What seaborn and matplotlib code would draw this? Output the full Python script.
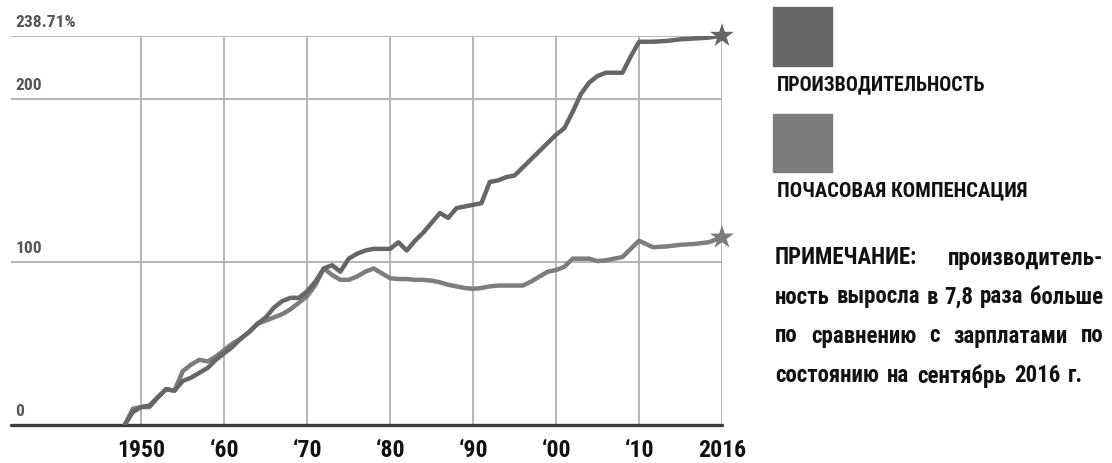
import numpy as np
import pandas as pd
import matplotlib
matplotlib.use("Agg")
import matplotlib.pyplot as plt
from matplotlib import font_manager
from matplotlib.patches import Rectangle
import seaborn as sns

# ---- data -------------------------------------------------------------
years = list(range(1948, 2017))

productivity = [
    0, 8, 11, 12, 17, 22, 21, 27, 29, 32, 35, 40,          # 1948-1959
    44, 48, 53, 57, 62, 66, 72, 76, 78, 78,                # 1960-1969
    82, 88, 96, 98, 94, 102, 105, 107, 108, 108,           # 1970-1979
    108, 112, 107, 113, 118, 124, 130, 127, 133, 134,      # 1980-1989
    135, 136, 149, 150, 152, 153, 158, 163, 168, 173,      # 1990-1999
    178, 182, 192, 203, 210, 214, 216, 216, 216, 226,      # 2000-2009
    235, 235, 235.5, 236.5, 237, 237.5, 238.71,            # 2010-2016
]

compensation = [
    0, 10, 11, 11, 17, 22, 21, 33, 37, 40, 39, 42,         # 1948-1959
    46, 50, 53, 57, 62, 64, 66, 68, 71, 75,                # 1960-1969
    79, 86, 96, 92, 89, 89, 91, 94, 96, 93,                # 1970-1979
    90, 89.5, 89.5, 89, 89, 88.5, 87.5, 86, 85, 84,        # 1980-1989
    83.5, 84, 85, 85.5, 85.5, 85.5, 85.5, 88, 91, 94,      # 1990-1999
    95, 97, 102, 102, 102, 100.5, 101, 102, 103, 108,      # 2000-2009
    113, 109, 109.5, 110.5, 111, 112, 115,                 # 2010-2016
]

series_names = ["ПРОИЗВОДИТЕЛЬНОСТЬ", "ПОЧАСОВАЯ КОМПЕНСАЦИЯ"]
series_colors = ["#666666", "#7d7d7d"]

x_ticks = [1950, 1960, 1970, 1980, 1990, 2000, 2010, 2016]
x_tick_labels = ["1950", "‘60", "‘70", "‘80", "‘90", "‘00", "‘10", "2016"]
y_ticks = [0, 100, 200, 238.71]
y_tick_labels = ["0", "100", "200", "238.71%"]

note_lines = [
    ["ПРИМЕЧАНИЕ:", "производитель-"],
    ["ность", "выросла", "в", "7,8", "раза", "больше"],
    ["по", "сравнению", "с", "зарплатами", "по"],
    ["состоянию", "на", "сентябрь", "2016", "г."],
]

# ---- styling ----------------------------------------------------------
sns.set_theme(style="white")


def pick_family(candidates):
    for fam in candidates:
        try:
            font_manager.findfont(font_manager.FontProperties(family=fam),
                                  fallback_to_default=False)
            return fam
        except Exception:
            continue
    return "DejaVu Sans"


main_family = pick_family(["Liberation Sans Narrow", "DejaVu Sans Condensed",
                           "Roboto Condensed", "Open Sans Condensed",
                           "DejaVu Sans"])
FONT = [main_family, "DejaVu Sans"]
plt.rcParams["font.family"] = FONT

W, H = 1112, 463
fig = plt.figure(figsize=(W / 100, H / 100), dpi=100)
ax = fig.add_axes([11 / W, 1 - 425 / H, (722 - 11) / W, (425 - 35.7) / H])
renderer = fig.canvas.get_renderer()


def text_width(s, size):
    t = fig.text(0, 0, s, fontsize=size, fontweight="bold", family=FONT)
    w = t.get_window_extent(renderer).width
    t.remove()
    return w


def fit_size(s, target_px, max_size):
    w = text_width(s, 20)
    return min(max_size, 20 * target_px / w)


# the last stretch (2010-2016) is drawn as wide as a full decade
def fwd(x):
    x = np.asarray(x, dtype=float)
    return np.where(x <= 2010, x, 2010 + (x - 2010) * 10 / 6)


def inv(x):
    x = np.asarray(x, dtype=float)
    return np.where(x <= 2010, x, 2010 + (x - 2010) * 0.6)


ax.set_xscale("function", functions=(fwd, inv))

df = pd.DataFrame({
    "year": years * 2,
    "value": productivity + compensation,
    "series": [series_names[0]] * len(years) + [series_names[1]] * len(years),
})
palette = dict(zip(series_names, series_colors))

sns.lineplot(data=df, x="year", y="value", hue="series", palette=palette,
             hue_order=series_names[::-1], linewidth=3.2, legend=False,
             ax=ax, zorder=4)

last = df[df["year"] == years[-1]]
sns.scatterplot(data=last, x="year", y="value", hue="series", palette=palette,
                marker="*", s=330, linewidth=0, legend=False, ax=ax,
                zorder=5, clip_on=False)

ax.set_xlim(1934.3, 2016)
ax.set_ylim(0, 238.71)

# grid
for xv in x_ticks:
    ax.axvline(xv, color="#b5b5b5", lw=1.4, zorder=1)
for yv in y_ticks[1:]:
    ax.axhline(yv, color="#b5b5b5", lw=1.4, zorder=1)
ax.axhline(0, color="#3c3c3c", lw=2.4, zorder=3, clip_on=False)

for s in ax.spines.values():
    s.set_visible(False)

xsize = fit_size("1950", 48, 18)
ax.set_xticks(x_ticks)
ax.set_xticklabels(x_tick_labels, fontsize=xsize, fontweight="bold",
                   color="#111111", family=FONT)
ax.tick_params(axis="x", length=0, pad=10)
ax.set_yticks([])
ax.set_xlabel("")
ax.set_ylabel("")

# y labels sitting just above their grid lines
ysize = fit_size("238.71%", 60, 13)
for yv, lab in zip(y_ticks, y_tick_labels):
    ax.text(0.006, yv + 3.5, lab, transform=ax.get_yaxis_transform(),
            ha="left", va="bottom", fontsize=ysize, fontweight="bold",
            color="#555555", family=FONT)

# ---- legend -----------------------------------------------------------
sq = [(773, 7, 59, 59), (773, 114, 59, 58)]
label_y = [85, 191]
label_w = [209, 250]
for (x0, y0, w, h), col, name, ly, lw_ in zip(sq, series_colors, series_names,
                                               label_y, label_w):
    fig.patches.append(Rectangle((x0 / W, 1 - (y0 + h) / H), w / W, h / H,
                                 transform=fig.transFigure, color=col))
    fig.text(777 / W, 1 - ly / H, name, ha="left", va="center",
             fontsize=fit_size(name, lw_, 17), fontweight="bold",
             color="#111111", family=FONT)

# ---- note, justified --------------------------------------------------
left_px, right_px = 775, 1103
line_y = [258, 297, 336, 376]
min_gap = 6
# size so that the densest justified line still keeps a visible word gap
note_size = min(
    fit_size("".join(words),
             (right_px - left_px) - min_gap * (len(words) - 1), 16.5)
    for words in note_lines[:-1]
)
for i, (words, ly) in enumerate(zip(note_lines, line_y)):
    texts = [fig.text(0, 1 - ly / H, w, ha="left", va="center",
                      fontsize=note_size, fontweight="bold", color="#111111",
                      family=FONT) for w in words]
    widths = [t.get_window_extent(renderer).width for t in texts]
    if i < len(note_lines) - 1:
        gap = (right_px - left_px - sum(widths)) / (len(words) - 1)
    else:
        gap = min_gap + 2
    x = left_px
    for t, wdt in zip(texts, widths):
        t.set_x(x / W)
        x += wdt + gap

fig.savefig("out.png", dpi=100, facecolor="white")
